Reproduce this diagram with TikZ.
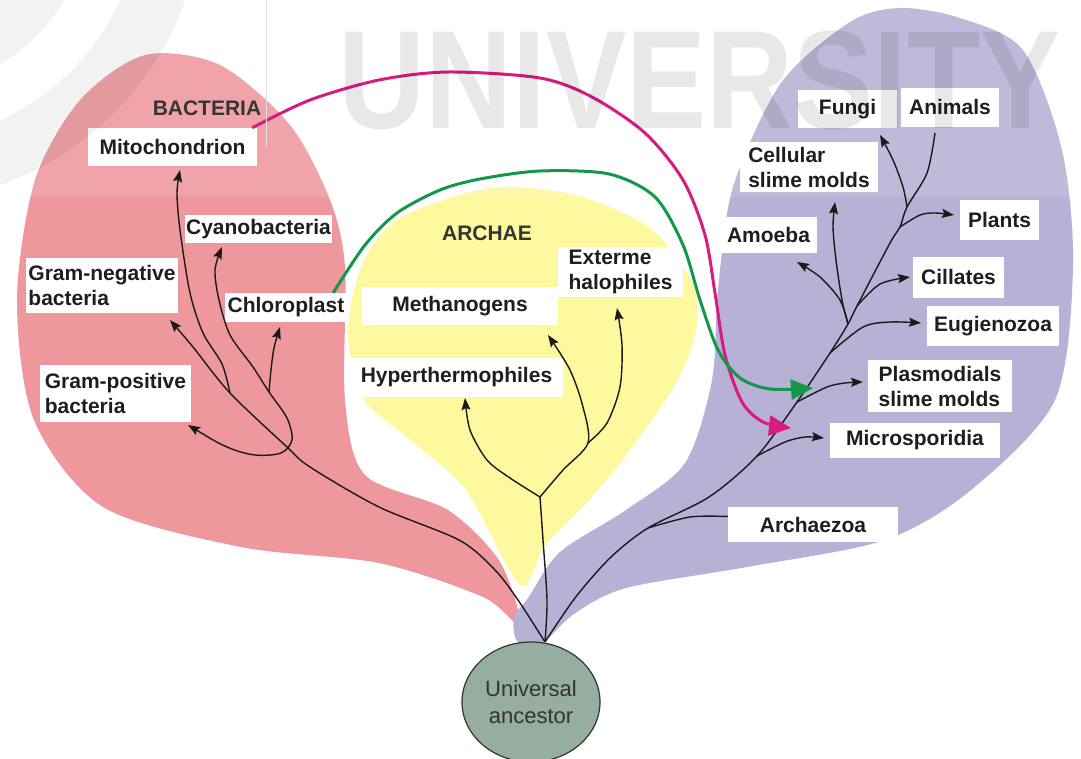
\documentclass[tikz,border=0pt]{standalone}
\usepackage{fontspec}
\setmainfont{Liberation Sans}
\usetikzlibrary{arrows.meta,shapes.geometric,backgrounds}

\definecolor{bactred}{HTML}{EE979C}
\definecolor{archyel}{HTML}{FEF89E}
\definecolor{eukpurp}{HTML}{B7B1D6}
\definecolor{ancgreen}{HTML}{96AE9F}
\definecolor{mitomag}{HTML}{D81B80}
\definecolor{chlorgrn}{HTML}{12984A}
\definecolor{labelink}{HTML}{1E1E1E}
\definecolor{treeink}{HTML}{1A1A1A}

\tikzset{
  taxon/.style={fill=white, text=labelink, inner sep=0pt, align=left,
    font=\bfseries\fontsize{21}{25}\selectfont},
  realm/.style={text=labelink!90!white, inner sep=0pt,
    font=\bfseries\fontsize{21}{25}\selectfont},
  stem/.style={draw=treeink, line width=1.4pt},
  branch/.style={stem, -{Stealth[length=12pt,width=9pt,inset=2pt]}},
  twoway/.style={stem, {Stealth[length=12pt,width=9pt,inset=2pt]}-{Stealth[length=12pt,width=9pt,inset=2pt]}},
  transfer/.style={line width=3pt, -{Triangle[length=22pt,width=20pt]}},
  ancestor/.style={ellipse, draw=black!80, line width=1.2pt, fill=ancgreen,
    minimum width=138pt, minimum height=120pt, inner sep=0pt, align=center,
    text=black!80, font=\fontsize{22}{27}\selectfont},
}

\begin{document}
\begin{tikzpicture}[x=1pt,y=-1pt]
\useasboundingbox (0,0) rectangle (1081,758);

% labels
\node[taxon, minimum width=169pt, minimum height=38pt] (mito) at (172.5,147) {Mitochondrion};
\node[taxon, minimum width=147pt, minimum height=28pt] (cyano) at (258.5,229) {Cyanobacteria};
\node[taxon, minimum width=152pt, minimum height=55pt] (gneg) at (102,285.5) {Gram-negative\\bacteria};
\node[taxon, minimum width=122pt, minimum height=29pt] (chloro) at (286,307.5) {Chloroplast};
\node[taxon, minimum width=151pt, minimum height=57pt] (gpos) at (115.5,393.5) {Gram-positive\\bacteria};
\node[taxon, minimum width=196pt, minimum height=38pt] (metha) at (460,306) {Methanogens};
\node[taxon, minimum width=125pt, minimum height=50pt] (halo) at (620.5,272) {Exterme\\halophiles};
\node[taxon, minimum width=213pt, minimum height=39pt] (hyper) at (456.5,377.5) {Hyperthermophiles};
\node[taxon, minimum width=99pt, minimum height=38pt] (fungi) at (847.5,109) {Fungi};
\node[taxon, minimum width=98pt, minimum height=39pt] (anim) at (950,107) {Animals};
\node[taxon, minimum width=138pt, minimum height=50pt] (cell) at (809,167) {Cellular\\slime molds};
\node[taxon, minimum width=97pt, minimum height=36pt] (amoe) at (768.5,235) {Amoeba};
\node[taxon, minimum width=79pt, minimum height=40pt] (plant) at (999.5,220) {Plants};
\node[taxon, minimum width=91pt, minimum height=41pt] (cill) at (958.5,277) {Cillates};
\node[taxon, minimum width=132pt, minimum height=40pt] (eugl) at (993,326) {Eugienozoa};
\node[taxon, minimum width=144pt, minimum height=52pt] (plasm) at (940,386) {Plasmodials\\slime molds};
\node[taxon, minimum width=170pt, minimum height=35pt] (micro) at (915,440.5) {Microsporidia};
\node[taxon, minimum width=170pt, minimum height=35pt] (archz) at (813,524.5) {Archaezoa};
\node[realm] (bact) at (207,108) {BACTERIA};
\node[realm] (arch) at (487,233) {ARCHAE};

% domains
\begin{scope}[on background layer]
\fill[bactred] plot[smooth cycle] coordinates {(520,625) (483,597) (379,563) (241,547) (103,507) (34,420)
  (17,300) (35,180) (80,100) (145,55) (220,65) (290,125) (330,200) (345,267) (345,400) (365,475)
  (448,510) (500,562)};
\fill[archyel] plot[smooth cycle] coordinates {(520,585) (466,490) (410,440) (362,397) (348,330)
  (363,263) (400,218) (490,188) (575,195) (650,228) (692,282) (696,330) (675,385) (630,450)
  (592,497) (545,545)};
\fill[eukpurp] plot[smooth cycle] coordinates {(540,645) (517,641) (514,617) (528,598) (560,552)
  (626,510) (685,463) (712,380) (718,290) (733,187) (781,83) (850,22) (900,8) (960,18) (1023,50)
  (1062,150) (1073,267) (1055,400) (971,490) (885,540) (747,567) (626,588) (574,614)};
\fill[white, opacity=0.12] (0,0) rectangle (1081,197);
\end{scope}

% tree points
\coordinate (root) at (545,642);
\coordinate (fMito) at (230,393);
\coordinate (fChloro) at (269,392);
\coordinate (fArch) at (540,497);
\coordinate (fEury) at (588,443);
\coordinate (fArchz) at (648,528);
\coordinate (fMicro) at (757,456);
\coordinate (fPlasm) at (797,402);
\coordinate (fEugl) at (830,353);
\coordinate (fAmoe) at (848,324);
\coordinate (fCill) at (857,306);
\coordinate (fPlant) at (900,227);
\coordinate (fFungi) at (907,207);
\coordinate (tMito) at (180,170);
\coordinate (tGneg) at (170,320);
\coordinate (tGpos) at (188,425);
\coordinate (tCyano) at (222,247);
\coordinate (tChloro) at (280,327);
\coordinate (tHyper) at (465,398);
\coordinate (tMeth) at (548,335);
\coordinate (tHalo) at (617,308);
\coordinate (tMicro) at (824,438);
\coordinate (tPlasm) at (863,382);
\coordinate (tEugl) at (921,323);
\coordinate (tAmoe) at (797,262);
\coordinate (tCell) at (835,202);
\coordinate (tCill) at (910,277);
\coordinate (tPlant) at (954,215);
\coordinate (tFungi) at (880,135);
\coordinate (tAnim) at (935,133);
\coordinate (sMag) at ([xshift=-5pt]mito.north east);
\coordinate (sGrn) at ([xshift=-14pt]chloro.north east);
\coordinate (tMag) at (791,428);
\coordinate (tGrn) at (813,388);

% bacteria
\draw[branch] plot[smooth] coordinates {(root) (518,600) (495,570) (459,540) (379,507) (310,467)
  (287,447) (fMito) (193,347) (tGneg)};
\draw[branch] plot[smooth] coordinates {(fMito) (222,364) (203,333) (190,293) (180,230) (177,193) (tMito)};
\draw[twoway] plot[smooth] coordinates {(tGpos) (227,447) (255,455) (281,453) (292,440) (287,418)
  (fChloro) (253,367) (230,335) (219,300) (215,270) (tCyano)};
\draw[branch] plot[smooth] coordinates {(fChloro) (271,370) (274,348) (tChloro)};

% archae
\draw[stem] plot[smooth] coordinates {(root) (547,600) (543,540) (fArch)};
\draw[branch] plot[smooth] coordinates {(fArch) (510,478) (487,460) (470,430) (tHyper)};
\draw[branch] plot[smooth] coordinates {(fArch) (563,470) (fEury) (583,407) (570,370) (tMeth)};
\draw[branch] plot[smooth] coordinates {(fEury) (607,423) (620,387) (622,345) (tHalo)};

% eukaryotes
\draw[stem] plot[smooth] coordinates {(root) (575,598) (610,558) (fArchz) (709,497) (fMicro)
  (fPlasm) (fEugl) (fAmoe) (fCill) (890,243) (fPlant) (fFungi) (927,173) (tAnim)};
\draw[stem] plot[smooth] coordinates {(fArchz) (690,517) ([yshift=8pt]archz.west)};
\draw[branch] plot[smooth] coordinates {(fMicro) (785,442) (805,437) (tMicro)};
\draw[branch] plot[smooth] coordinates {(fPlasm) (827,387) (845,383) (tPlasm)};
\draw[branch] plot[smooth] coordinates {(fEugl) (863,327) (890,322) (tEugl)};
\draw[branch] plot[smooth] coordinates {(fAmoe) (840,300) (820,277) (tAmoe)};
\draw[branch] plot[smooth] coordinates {(fAmoe) (842,300) (836,260) (833,227) (tCell)};
\draw[branch] plot[smooth] coordinates {(fCill) (880,284) (tCill)};
\draw[branch] plot[smooth] coordinates {(fPlant) (920,215) (935,213) (tPlant)};
\draw[branch] plot[smooth] coordinates {(fFungi) (903,187) (893,160) (tFungi)};

% endosymbiosis
\draw[transfer, mitomag] plot[smooth] coordinates {(sMag) (310,100) (379,80) (448,72) (540,78)
  (592,97) (645,133) (683,180) (705,235) (715,293) (725,355) (742,402) (763,422) (tMag)};
\draw[transfer, chlorgrn] plot[smooth] coordinates {(sGrn) (365,245) (397,213) (440,190) (480,179)
  (540,171) (609,174) (655,197) (683,245) (700,300) (718,350) (740,378) (770,389) (tGrn)};

\node[ancestor] (anc) at (531,702) {Universal\\ancestor};

% watermark
\begin{scope}[opacity=0.05]
\draw[line width=55pt] (-100,-100) circle[radius=165];
\draw[line width=60pt] (-100,-100) circle[radius=272];
\end{scope}
\draw[black!12, line width=1pt] (266,0) -- (266,147);
\node[opacity=0.09, inner sep=0pt, xscale=0.86, font=\bfseries\fontsize{140}{140}\selectfont] (wmark) at (700,80) {UNIVERSITY};
\end{tikzpicture}
\end{document}
